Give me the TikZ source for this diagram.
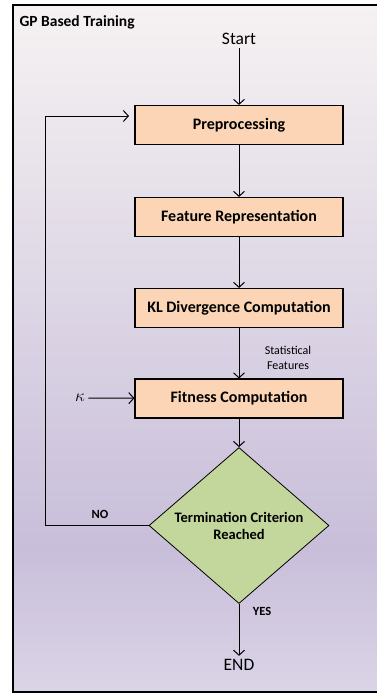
\documentclass[tikz,border=0pt]{standalone}
\usepackage{fontspec}
\setmainfont{Carlito}
\usetikzlibrary{positioning,shapes.geometric,arrows.meta}

\definecolor{bgtop}{HTML}{F6F2F2}
\definecolor{bgdark}{HTML}{C8BEDA}
\definecolor{bgbot}{HTML}{DBD4E6}
\definecolor{boxfill}{HTML}{FBD5B5}
\definecolor{diafill}{HTML}{C3D69B}

\pgfdeclareverticalshading{lavender}{100bp}{color(0bp)=(bgbot); color(25bp)=(bgbot);
  color(35.5bp)=(bgdark); color(75bp)=(bgtop); color(100bp)=(bgtop)}

\tikzset{
  stepbox/.style={draw, line width=1.1pt, fill=boxfill, minimum width=208pt,
    minimum height=39pt, font=\fontsize{16}{18}\selectfont\bfseries},
  decision/.style={diamond, draw, line width=0.8pt, fill=diafill, minimum width=180pt,
    minimum height=135pt, inner sep=0pt, align=center,
    font=\fontsize{14.5}{17}\selectfont\bfseries},
  flow/.style={-{Straight Barb[length=5pt,width=11pt]}, line width=1pt},
  small/.style={font=\fontsize{12}{15}\selectfont, align=center},
  tag/.style={font=\fontsize{12.5}{15}\selectfont\bfseries},
}

\begin{document}
\begin{tikzpicture}[x=1pt, y=-1pt]
\useasboundingbox (0,0) rectangle (377,693);
% lavender panel, open to the right
\shade[shading=lavender] (13,5) rectangle (377,692);
\draw[line width=1.4pt] (377,5) -- (13,5) -- (13,692) -- (377,692);
\node[anchor=west, font=\fontsize{15.5}{18}\selectfont\bfseries] (title) at (16,22) {GP Based Training};

\node[font=\fontsize{17.5}{20}\selectfont] (start) at (239,39) {Start};
\node[stepbox] (pre) at (239,125) {Preprocessing};
\node[stepbox] (feat) at (239,217) {Feature Representation};
\node[stepbox] (kl) at (239,308) {KL Divergence Computation};
\node[stepbox] (fit) at (239,398.5) {Fitness Computation};
\node[decision] (term) at (239,525.5) {Termination Criterion\\Reached};
\node[font=\fontsize{17.5}{20}\selectfont] (end) at (239,665) {END};

\node[font=\fontsize{18}{20}\selectfont] (kappa) at (80,398) {$\kappa$};
\node[small] (stat) at (288,358) {Statistical\\Features};
\node[tag] (no) at (100,514) {NO};
\node[tag] (yes) at (262,611) {YES};
\coordinate (loopin) at (129,116);

\draw[flow] (start) -- (pre);
\draw[flow] (pre) -- (feat);
\draw[flow] (feat) -- (kl);
\draw[flow] (kl) -- (fit);
\draw[flow] (fit) -- (term.north);
\draw[flow] (term.south) -- (end.north);
\draw[flow] (kappa) -- (fit);
\draw[flow] (term.west) -- (45,525.5) |- (loopin);

\end{tikzpicture}
\end{document}
